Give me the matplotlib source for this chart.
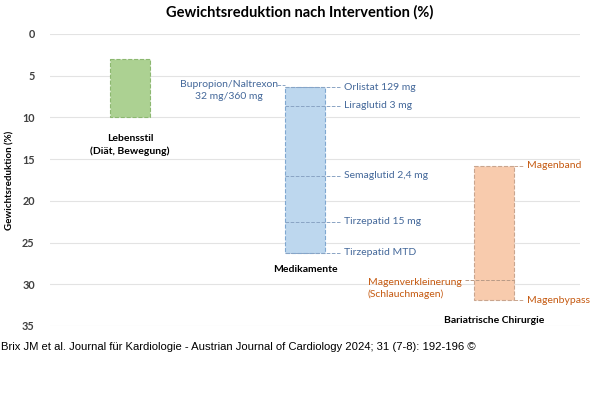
import matplotlib
matplotlib.use('Agg')
import matplotlib.pyplot as plt

# Daten (Gewichtsreduktion in %)
kategorien = ['Lebensstil\n(Diät, Bewegung)', 'Medikamente', 'Bariatrische Chirurgie']
von = [3.0, 6.3, 15.8]
bis = [10.0, 26.2, 31.9]

med_namen = ['Orlistat 129 mg', 'Liraglutid 3 mg', 'Semaglutid 2,4 mg', 'Tirzepatid 15 mg', 'Tirzepatid MTD']
med_werte = [6.4, 8.6, 17.0, 22.5, 26.2]
bup_name = 'Bupropion/Naltrexon\n32 mg/360 mg'
bup_wert = 6.1

op_namen = ['Magenband', 'Magenverkleinerung\n(Schlauchmagen)', 'Magenbypass']
op_werte = [15.8, 29.5, 31.9]

yticks = [0, 5, 10, 15, 20, 25, 30, 35]

# Layout
xpos = [80, 255, 444]
bw = 40
fills = ['#acd192', '#bdd7ee', '#f8cbad']
edges = ['#8cb870', '#7fa7d0', '#c9a58e']
blau = '#44689a'
orange = '#c55a11'

plt.rcParams['font.family'] = ['Lato', 'DejaVu Sans']

fig = plt.figure(figsize=(6, 3.95), dpi=100)
ax = fig.add_axes([50/600, 1-326/395, 530/600, 292/395])
ax.set_xlim(0, 530)
ax.set_ylim(35, 0)

for y in yticks:
    ax.axhline(y, color='#e3e3e3', lw=0.8, zorder=0)

for i in range(3):
    ax.bar(xpos[i], bis[i]-von[i], bottom=von[i], width=bw, color=fills[i],
           edgecolor=edges[i], linestyle='--', linewidth=0.8, zorder=2)

# Kategorie-Beschriftungen
ax.text(xpos[0], 13.3, kategorien[0], ha='center', va='center', fontsize=7.5,
        fontweight='bold', linespacing=1.4)
ax.text(xpos[1], 28.2, kategorien[1], ha='center', va='center', fontsize=7.5, fontweight='bold')
ax.text(xpos[2], 34.4, kategorien[2], ha='center', va='center', fontsize=7.5, fontweight='bold')

# Medikamente
x0 = xpos[1] - bw/2
x1 = xpos[1] + bw/2
for n, v in zip(med_namen, med_werte):
    ax.plot([x0, x1 + 15], [v, v], color='#8aa4c4', ls='--', lw=0.7, zorder=3)
    ax.text(x1 + 19, v, n, color=blau, fontsize=7.5, va='center', ha='left')
ax.plot([x0 - 8, x0], [bup_wert, bup_wert], color='#8aa4c4', ls='--', lw=0.7, zorder=3)
ax.text(179, bup_wert + 0.7, bup_name, color=blau, fontsize=7.5, va='center', ha='center',
        linespacing=1.4)

# Chirurgie
x0 = xpos[2] - bw/2
x1 = xpos[2] + bw/2
ax.plot([x1, x1 + 10], [op_werte[0], op_werte[0]], color='#c9a58e', ls='--', lw=0.7, zorder=3)
ax.text(x1 + 13, op_werte[0], op_namen[0], color=orange, fontsize=7.5, va='center', ha='left')
ax.plot([x0 - 9, x1], [op_werte[1], op_werte[1]], color='#b89a86', ls='--', lw=0.7, zorder=3)
ax.text(318, op_werte[1] + 1.0, op_namen[1], color=orange, fontsize=7.5, va='center', ha='left',
        linespacing=1.4)
ax.plot([x1, x1 + 10], [op_werte[2], op_werte[2]], color='#c9a58e', ls='--', lw=0.7, zorder=3)
ax.text(x1 + 13, op_werte[2], op_namen[2], color=orange, fontsize=7.5, va='center', ha='left')

ax.set_yticks(yticks)
ax.set_yticklabels([str(t) for t in yticks], fontweight='bold', fontsize=7.8, color='#404040')
ax.tick_params(axis='y', length=0, pad=11)
ax.set_xticks([])
for s in ax.spines.values():
    s.set_visible(False)

fig.text(10/600, 1-180/395, 'Gewichtsreduktion (%)', rotation=90, ha='center', va='center',
         fontsize=7, fontweight='bold')
fig.text(0.5, 1-12/395, 'Gewichtsreduktion nach Intervention (%)', ha='center', va='center',
         fontsize=10.5, fontweight='bold')
fig.text(1/600, 1-347/395, 'Brix JM et al. Journal für Kardiologie - Austrian Journal of Cardiology 2024; 31 (7-8): 192-196 ©',
         ha='left', va='center', fontsize=8.15, family='Liberation Sans')

fig.savefig('out.png', dpi=100)
